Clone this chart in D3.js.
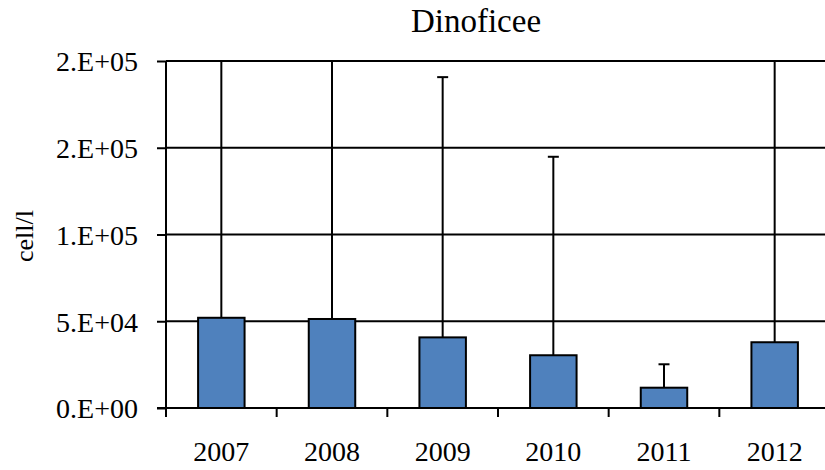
<!DOCTYPE html>
<html>
<head>
<meta charset="utf-8">
<script src="https://cdn.jsdelivr.net/npm/d3@7"></script>
</head>
<body style="margin:0;background:#fff">
<svg id="chart" width="825" height="470" font-family="Liberation Serif, Tinos, Times New Roman, serif"></svg>
<script>
// Dinoflagellate mean density per year (cell/l) with standard deviation
const years = ["2007", "2008", "2009", "2010", "2011", "2012"];
const means = [52000, 51300, 40700, 30400, 11700, 37900];
const sds   = [230000, 210000, 150000, 114400, 13500, 190000];
const yTickValues = [0, 50000, 100000, 150000, 200000];
const yTickLabels = ["0.E+00", "5.E+04", "1.E+05", "2.E+05", "2.E+05"];

const FONT = "'Liberation Serif', Tinos, 'Times New Roman', serif";
const svg = d3.select("#chart");
const plotLeft = 166, plotRight = 830, plotTop = 61, plotBottom = 408;

const x = d3.scaleBand().domain(years).range([plotLeft, plotRight]).padding(0);
const y = d3.scaleLinear().domain([0, 200000]).range([plotBottom, plotTop]);
const barW = x.bandwidth() * 0.42;

svg.append("defs").append("clipPath").attr("id", "plotClip")
  .append("rect").attr("x", plotLeft).attr("y", plotTop - 1)
  .attr("width", plotRight - plotLeft).attr("height", plotBottom - plotTop + 1);

// horizontal gridlines
svg.append("g").selectAll("line").data(yTickValues.slice(1)).join("line")
  .attr("x1", plotLeft).attr("x2", plotRight)
  .attr("y1", d => y(d)).attr("y2", d => y(d))
  .attr("stroke", "#000").attr("stroke-width", 2);

// bars
svg.append("g").selectAll("rect").data(years).join("rect")
  .attr("x", d => x(d) + (x.bandwidth() - barW) / 2)
  .attr("y", (d, i) => y(means[i]))
  .attr("width", barW)
  .attr("height", (d, i) => y(0) - y(means[i]))
  .attr("fill", "#4F81BD")
  .attr("stroke", "#000").attr("stroke-width", 2);

// error bars (mean + sd), clipped to the plot area
const err = svg.append("g").attr("clip-path", "url(#plotClip)");
years.forEach((yr, i) => {
  const cx = x(yr) + x.bandwidth() / 2;
  const hi = means[i] + sds[i];
  err.append("line").attr("x1", cx).attr("x2", cx)
    .attr("y1", y(means[i])).attr("y2", y(hi))
    .attr("stroke", "#000").attr("stroke-width", 2);
  err.append("line").attr("x1", cx - 5.5).attr("x2", cx + 5.5)
    .attr("y1", y(hi)).attr("y2", y(hi))
    .attr("stroke", "#000").attr("stroke-width", 2);
});

// y axis
const yAxis = d3.axisLeft(y).tickValues(yTickValues)
  .tickFormat((d, i) => yTickLabels[i]).tickSize(9).tickPadding(19);
const gy = svg.append("g").attr("transform", `translate(${plotLeft},0)`).call(yAxis)
  .attr("font-family", null);
gy.select(".domain").attr("stroke", "#000").attr("stroke-width", 2)
  .attr("d", `M0,${plotTop}V${plotBottom}`);
gy.selectAll(".tick line").attr("stroke", "#000").attr("stroke-width", 2);
gy.selectAll(".tick text")
  .attr("font-family", FONT).style("font-family", FONT).style("font-size", "28px")
  .attr("fill", "#000").attr("dy", "0.35em");

// x axis
const gx = svg.append("g");
gx.append("line").attr("x1", plotLeft - 9).attr("x2", plotRight)
  .attr("y1", plotBottom).attr("y2", plotBottom)
  .attr("stroke", "#000").attr("stroke-width", 2);
gx.selectAll("line.tk").data(years).join("line").attr("class", "tk")
  .attr("x1", d => x(d)).attr("x2", d => x(d))
  .attr("y1", plotBottom).attr("y2", plotBottom + 9)
  .attr("stroke", "#000").attr("stroke-width", 2);
gx.selectAll("text").data(years).join("text")
  .attr("x", d => x(d) + x.bandwidth() / 2)
  .attr("y", 461)
  .attr("text-anchor", "middle")
  .attr("font-family", FONT).style("font-family", FONT).style("font-size", "28px")
  .attr("fill", "#000")
  .text(d => d);

// title
svg.append("text").attr("x", 476).attr("y", 32)
  .attr("text-anchor", "middle")
  .attr("font-family", FONT).style("font-family", FONT).style("font-size", "33px")
  .attr("fill", "#000")
  .text("Dinoficee");

// y axis label
svg.append("text")
  .attr("transform", "translate(33,236) rotate(-90)")
  .attr("text-anchor", "middle")
  .attr("font-family", FONT).style("font-family", FONT).style("font-size", "26px")
  .attr("fill", "#000")
  .text("cell/l");
</script>
</body>
</html>
